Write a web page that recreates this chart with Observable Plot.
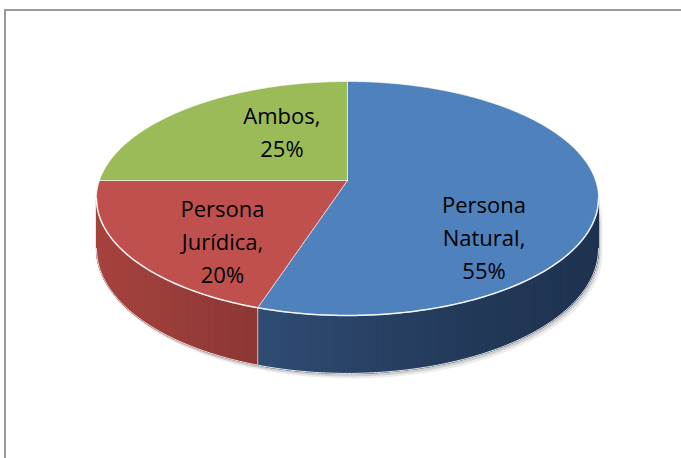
<!DOCTYPE html>
<html><head><meta charset="utf-8">
<script src="https://cdn.jsdelivr.net/npm/d3@7"></script>
<script src="https://cdn.jsdelivr.net/npm/@observablehq/plot@0.6"></script>
<style>
html,body{margin:0;padding:0;background:#fff;}
#wrap{position:relative;width:681px;height:458px;overflow:hidden;}
#frame{position:absolute;left:4px;top:9px;right:-4px;bottom:-4px;border-top:2px solid #9a9a9a;border-left:2px solid #9a9a9a;}
#chart{position:absolute;left:0;top:0;}
</style></head><body>
<div id="wrap"><div id="frame"></div><div id="chart"></div></div>
<script>
// ---- data ----
const categories = ["Persona Natural", "Persona Jurídica", "Ambos"];
const shares = [55, 20, 25];

// ---- styles / layout ----
const topColors = ["#4F81BD", "#C0504D", "#9BBB59"];
const sideStops = [
  [[258, "#2F4C74"], [445, "#243B5B"], [597, "#1F3350"]],
  [[96, "#A6433F"], [258, "#8C3734"]],
  [[96, "#7d9648"], [597, "#6a803d"]]
];
const labelLayout = [{r: 0.55, drop: 45}, {r: 0.59, drop: 17}, {r: 0.39, drop: -20}];
const CX = 347, CY = 180, A = 248, B = 114.2, K = 0.154, D = 49;

const TAU = 2 * Math.PI;
function proj(t, r = 1, down = 0) {
  const w = 1 + K * r * Math.cos(t);
  return {x: CX + A * r * Math.sin(t) / w, y: CY - B * r * Math.cos(t) / w + down / w};
}
function shade(i, x) {
  const s = sideStops[i];
  if (x <= s[0][0]) return s[0][1];
  for (let j = 1; j < s.length; j++) {
    if (x <= s[j][0]) {
      const u = (x - s[j-1][0]) / (s[j][0] - s[j-1][0]);
      return d3.interpolateRgb(s[j-1][1], s[j][1])(u);
    }
  }
  return s[s.length - 1][1];
}

const total = d3.sum(shares);
let acc = 0;
const slices = shares.map((v, i) => {
  const a0 = acc / total * TAU; acc += v; const a1 = acc / total * TAU;
  return {i, a0, a1, name: categories[i], v};
});

// top faces
const topPts = [];
slices.forEach(s => {
  const c = proj(0, 0);
  topPts.push({...c, z: "t" + s.i, f: topColors[s.i]});
  const n = Math.max(2, Math.ceil((s.a1 - s.a0) / (0.5 * Math.PI / 180)));
  for (let k = 0; k <= n; k++) {
    const t = s.a0 + (s.a1 - s.a0) * k / n;
    topPts.push({...proj(t), z: "t" + s.i, f: topColors[s.i]});
  }
  topPts.push({...c, z: "t" + s.i, f: topColors[s.i]});
});

// visible side
const ts0 = Math.acos(-K), ts1 = TAU - ts0;
const breaks = [ts0, ...slices.map(s => s.a1).filter(a => a > ts0 && a < ts1), ts1];
const sidePts = [], sideBase = [];
let sid = 0;
for (let b = 0; b < breaks.length - 1; b++) {
  const b0 = breaks[b], b1 = breaks[b + 1];
  const si0 = slices.find(s => (b0 + b1) / 2 >= s.a0 && (b0 + b1) / 2 < s.a1).i;
  const n = Math.max(1, Math.ceil((b1 - b0) / (1 * Math.PI / 180)));
  const baseTop = [], baseBot = [];
  for (let k = 0; k <= n; k++) {
    const t = b0 + (b1 - b0) * k / n;
    baseTop.push(proj(t)); baseBot.push(proj(t, 1, D));
  }
  const mid = shade(si0, (baseTop[0].x + baseTop[n].x) / 2);
  [...baseTop, ...baseBot.reverse(), baseTop[0]].forEach(p => sideBase.push({...p, z: "b" + b, f: mid}));
  for (let k = 0; k < n; k++) {
    const t0 = b0 + (b1 - b0) * k / n, t1 = b0 + (b1 - b0) * (k + 1) / n;
    const p0 = proj(t0), p1 = proj(t1), q1 = proj(t1, 1, D), q0 = proj(t0, 1, D);
    const col = shade(si0, (p0.x + p1.x) / 2);
    [p0, p1, q1, q0, p0].forEach(p => sidePts.push({...p, z: "s" + sid, f: col}));
    sid++;
  }
}

// front arcs
const frontTop = [], frontBottom = [];
const nA = 200;
for (let k = 0; k <= nA; k++) {
  const t = ts0 + (ts1 - ts0) * k / nA;
  frontTop.push(proj(t));
  frontBottom.push(proj(t, 1, D));
}
function shadowPoly(dx, dy) {
  const pts = [];
  frontTop.forEach(p => pts.push({x: p.x + dx, y: p.y + dy}));
  frontBottom.slice().reverse().forEach(p => pts.push({x: p.x + dx, y: p.y + dy}));
  pts.push(pts[0]);
  return pts;
}

// vertical edges on the side at slice boundaries
const edgeLines = [];
slices.forEach(s => {
  if (s.a1 > ts0 && s.a1 < ts1) {
    edgeLines.push({...proj(s.a1), z: "e" + s.i});
    edgeLines.push({...proj(s.a1, 1, D), z: "e" + s.i});
  }
});

// labels
const labels = slices.map(s => {
  const tm = (s.a0 + s.a1) / 2;
  const L = labelLayout[s.i];
  const p = proj(tm, L.r);
  return {x: p.x, y: p.y + L.drop, text: s.name.split(" ").join("\n") + ",\n" + s.v + "%"};
});

const chart = Plot.plot({
  width: 681, height: 458, margin: 0,
  x: {domain: [0, 681], axis: null},
  y: {domain: [458, 0], axis: null},
  color: {type: "identity"},
  marks: [
    Plot.line(shadowPoly(4, 5), {x: "x", y: "y", fill: "#000", fillOpacity: 0.07, stroke: "none"}),
    Plot.line(shadowPoly(2, 3), {x: "x", y: "y", fill: "#000", fillOpacity: 0.12, stroke: "none"}),
    Plot.line(sideBase, {x: "x", y: "y", z: "z", fill: "f", stroke: "f", strokeWidth: 0.5}),
    Plot.line(sidePts, {x: "x", y: "y", z: "z", fill: "f", stroke: "f", strokeWidth: 1.2}),
    Plot.line(frontBottom, {x: "x", y: "y", stroke: "#e8e8e8", strokeWidth: 1}),
    Plot.line(edgeLines, {x: "x", y: "y", z: "z", stroke: "#dfe6ee", strokeWidth: 1, strokeOpacity: 0.8}),
    Plot.line(topPts, {x: "x", y: "y", z: "z", fill: "f", stroke: "white", strokeOpacity: 0.55, strokeWidth: 1}),
    Plot.line(frontTop, {x: "x", y: "y", stroke: "white", strokeWidth: 1.5, strokeOpacity: 0.9}),
    Plot.text(labels, {x: "x", y: "y", text: "text", fill: "black", fontSize: 22, fontFamily: "Open Sans",
      lineHeight: 1.5, lineAnchor: "middle", textAnchor: "middle"})
  ]
});
chart.style.background = "transparent";
document.getElementById("chart").appendChild(chart);
</script>
</body></html>
